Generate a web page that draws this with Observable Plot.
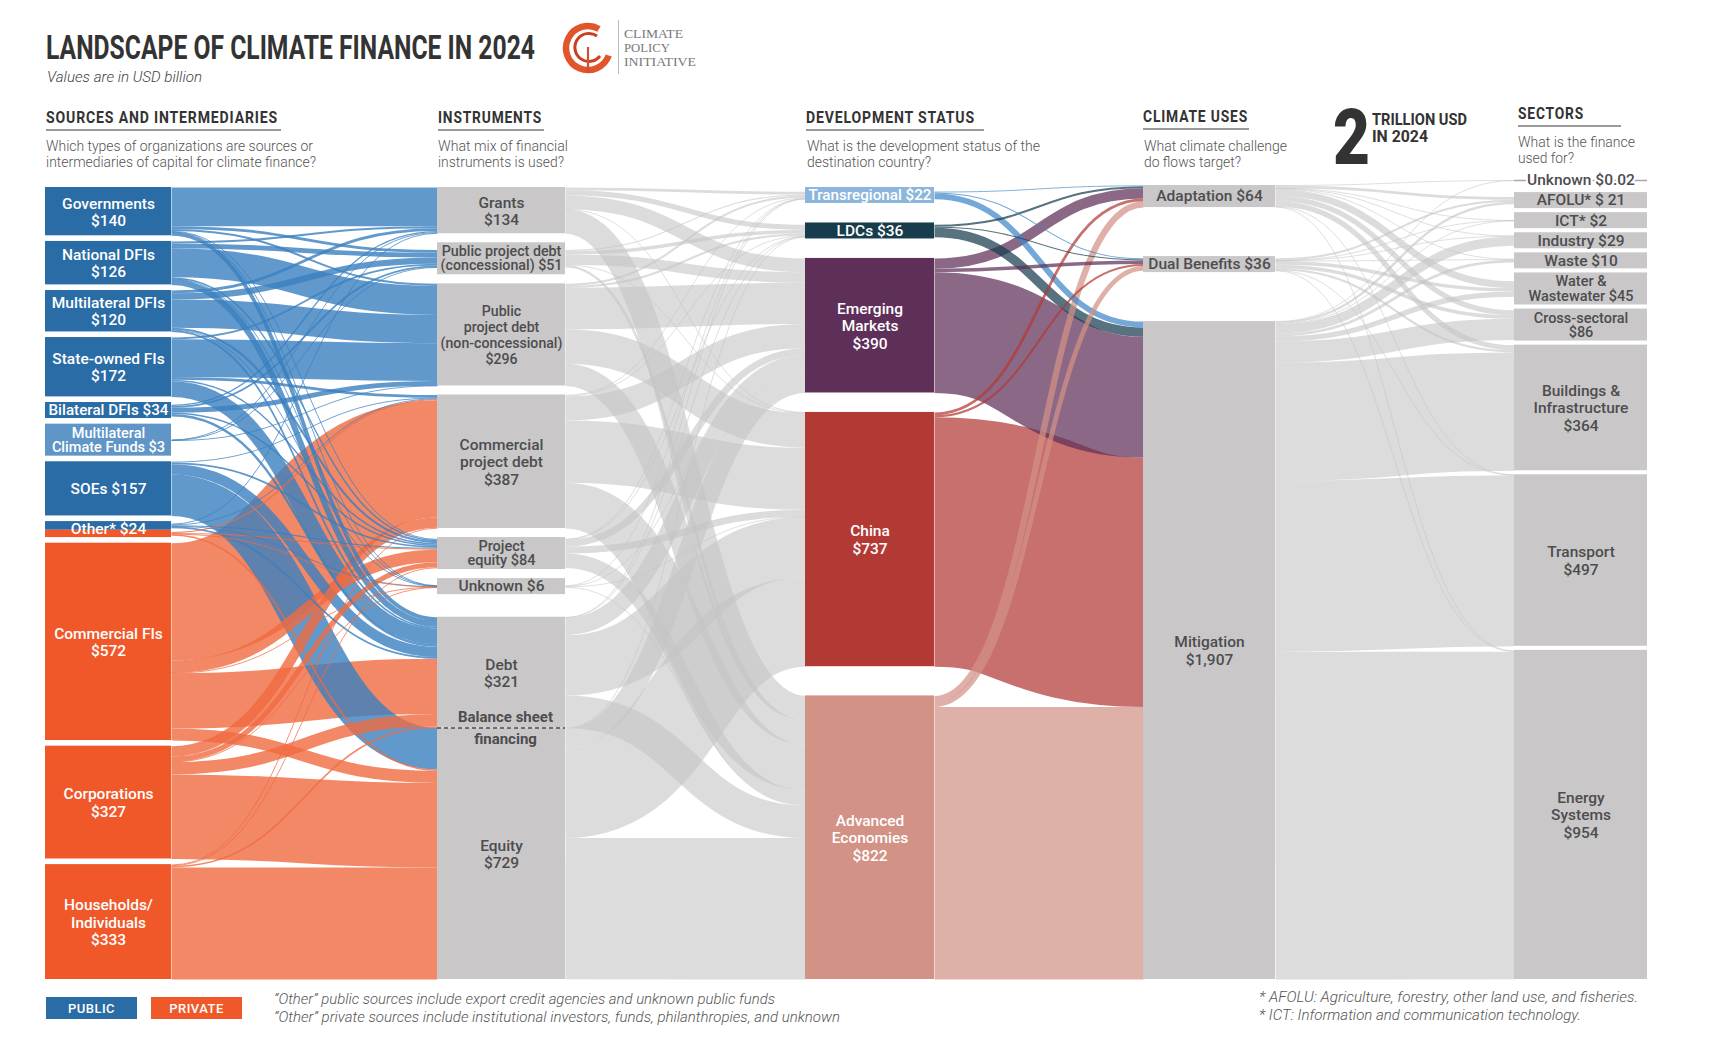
<!DOCTYPE html>
<html><head><meta charset="utf-8">
<script src="https://cdn.jsdelivr.net/npm/d3@7"></script>
<script src="https://cdn.jsdelivr.net/npm/@observablehq/plot@0.6"></script>
<style>
body{margin:0;background:#fff}
#wrap{position:relative;width:1716px;height:1045px;overflow:hidden;background:#fff;font-family:Roboto,"Noto Sans",sans-serif}
#chart{position:absolute;left:0;top:0}
.t{position:absolute;white-space:nowrap;line-height:1;transform-origin:0 50%}
.rule{position:absolute;height:2px;background:#9a9a9a}
.badge{position:absolute;width:91px;height:22px;color:#fff;font:500 13px Roboto,sans-serif;letter-spacing:.5px;display:flex;align-items:center;justify-content:center}
</style></head><body><div id="wrap"><div id="chart"></div></div>
<script>
// ---------------- DATA (USD billion) ----------------
const sources = ["Governments","National DFIs","Multilateral DFIs","State-owned FIs","Bilateral DFIs","Multilateral Climate Funds","SOEs","Other (public)","Other (private)","Commercial FIs","Corporations","Households/Individuals"];
const sourceValues = [140,126,120,172,34,3,157,13,11,572,327,333];
const sourceLabels = ["Governments\n$140","National DFIs\n$126","Multilateral DFIs\n$120","State-owned FIs\n$172","Bilateral DFIs $34","Multilateral\nClimate Funds $3","SOEs $157","Other* $24","","Commercial FIs\n$572","Corporations\n$327","Households/\nIndividuals\n$333"];
const sourceKind = ["public","public","public","public","public","public","public","public","private","private","private","private"];

const instruments = ["Grants","Public project debt (concessional)","Public project debt (non-concessional)","Commercial project debt","Project equity","Unknown instrument","Debt","Equity"];
const instrumentValues = [134,51,296,387,84,6,321,729];
const instrumentLabels = ["Grants\n$134","Public project debt\n(concessional) $51","Public\nproject debt\n(non-concessional)\n$296","Commercial\nproject debt\n$387","Project\nequity $84","Unknown $6","Debt\n$321","Equity\n$729"];

const statuses = ["Transregional","LDCs","Emerging Markets","China","Advanced Economies"];
const statusValues = [22,36,390,737,822];
const statusLabels = ["Transregional $22","LDCs $36","Emerging\nMarkets\n$390","China\n$737","Advanced\nEconomies\n$822"];

const uses = ["Adaptation","Dual Benefits","Mitigation"];
const useValues = [64,36,1907];
const useLabels = ["Adaptation $64","Dual Benefits $36","Mitigation\n$1,907"];

const sectors = ["Unknown sector","AFOLU","ICT","Industry","Waste","Water & Wastewater","Cross-sectoral","Buildings & Infrastructure","Transport","Energy Systems"];
const sectorValues = [0.02,21,2,29,10,45,86,364,497,954];
const sectorLabels = ["Unknown $0.02","AFOLU* $ 21","ICT* $2","Industry $29","Waste $10","Water &\nWastewater $45","Cross-sectoral\n$86","Buildings &\nInfrastructure\n$364","Transport\n$497","Energy\nSystems\n$954"];

// rows: sources; columns: instruments
const sourceToInstrument = [
  [112, 8, 6, 0, 2, 1, 11, 0],
  [6, 14, 84, 0, 4, 1, 17, 0],
  [8, 18, 82, 0, 6, 1, 5, 0],
  [0, 5, 109.5, 8, 4, 0, 45.5, 0],
  [4, 5, 14, 0, 4, 0, 7, 0],
  [1.5, 1, 0.5, 0, 0, 0, 0, 0],
  [0, 0, 0, 2, 5, 0, 30, 120],
  [2.5, 0, 0, 2, 3, 0.5, 5, 0],
  [0, 0, 0, 3, 3, 0.5, 0, 4.5],
  [0, 0, 0, 340, 36, 1, 160, 35],
  [0, 0, 0, 30, 15, 1, 36, 245],
  [0, 0, 0, 2, 2, 0, 4.5, 324.5]
];
// rows: instruments; columns: development status
const instrumentToStatus = [
  [8, 15, 40, 1, 70],
  [3, 10, 30, 1, 7],
  [6, 6, 120, 100, 64],
  [2, 2, 70, 180, 133],
  [1, 1, 20, 20, 42],
  [1, 0, 2, 1, 2],
  [1, 1, 50, 175, 94],
  [0, 1, 58, 259, 410]
];
// rows: development status; columns: climate uses
const statusToUse = [
  [2, 3, 17],
  [6, 3, 27],
  [30, 10, 350],
  [8, 6, 723],
  [18, 14, 790]
];
// rows: climate uses; columns: sectors
const useToSector = [
  [0.01, 8, 0.5, 1, 1, 20, 15, 15, 1, 2.49],
  [0, 6, 0.5, 1, 1, 10, 10, 6, 0.5, 1],
  [0.01, 7, 1, 27, 8, 15, 61, 343, 495.5, 949.5]
];

// ---------------- LAYOUT ----------------
const K = 0.345;                 // px per USD billion
const Y_BOT = 979;
const COLS = [{x:45,w:126,top:187},{x:437,w:128,top:187},{x:805,w:129,top:187},{x:1143,w:132,top:185},{x:1514,w:133,top:172}];
const JOIN = new Set(["Other (private)","Equity"]);
const GAP_WEIGHT = {"Debt":2.5,"Advanced Economies":1.5};

function buildColumn(c, names, values, labels){
  const C = COLS[c];
  const nodes = names.map((name,i)=>({name,value:values[i],label:labels[i],col:c,x0:C.x,x1:C.x+C.w,ins:[],outs:[]}));
  const groups = [];
  nodes.forEach(n=>{ if (JOIN.has(n.name) && groups.length) groups[groups.length-1].push(n); else groups.push([n]); });
  const minH = g => d3.max(g, n => { const L = n.label ? n.label.split("\n").length : 1; return L===1?16:L===2?32:0; });
  const gh = groups.map(g => Math.max(d3.sum(g,n=>n.value)*K, minH(g)));
  const weights = groups.map((g,i)=> i===0 ? 0 : (GAP_WEIGHT[g[0].name] || 1));
  const unit = (Y_BOT - C.top - d3.sum(gh)) / d3.sum(weights);
  let y = C.top;
  groups.forEach((g,i)=>{
    y += weights[i]*unit;
    const tot = d3.sum(g,n=>n.value); let yy = y;
    g.forEach(n=>{ n.y0=yy; n.y1=yy+gh[i]*n.value/tot; yy=n.y1; n.group=g; n.g0=y; n.g1=y+gh[i]; });
    y += gh[i];
  });
  return nodes;
}
const colNodes = [
  buildColumn(0, sources, sourceValues, sourceLabels),
  buildColumn(1, instruments, instrumentValues, instrumentLabels),
  buildColumn(2, statuses, statusValues, statusLabels),
  buildColumn(3, uses, useValues, useLabels),
  buildColumn(4, sectors, sectorValues, sectorLabels)
];
colNodes[0].forEach((n,i)=> n.kind = sourceKind[i]);
const allNodes = colNodes.flat();

function connect(S, T, M, stage){
  const out = [];
  M.forEach((row,i)=>row.forEach((v,j)=>{ if(v>0){ const l={source:S[i],target:T[j],value:v,stage}; S[i].outs.push(l); T[j].ins.push(l); out.push(l);} }));
  return out;
}
const stages = [
  connect(colNodes[0], colNodes[1], sourceToInstrument, 0),
  connect(colNodes[1], colNodes[2], instrumentToStatus, 1),
  connect(colNodes[2], colNodes[3], statusToUse, 2),
  connect(colNodes[3], colNodes[4], useToSector, 3)
];
const mid = n => (n.y0+n.y1)/2;
function stack(node, list, key, other){
  list.sort((a,b)=> mid(a[other]) - mid(b[other]));
  const tot = d3.sum(list, l=>l.value)*K;
  let y = mid(node) - tot/2;
  list.forEach(l=>{ l[key] = y + l.value*K/2; y += l.value*K; });
}
allNodes.forEach(n=>{ stack(n, n.outs, "ya", "target"); stack(n, n.ins, "yb", "source"); });

// ---------------- STYLES ----------------
const GRAY = "#c9c7c8";
const statusFill = {"Transregional":"#8db6dd","LDCs":"#173c4d","Emerging Markets":"#5e2f58","China":"#b33935","Advanced Economies":"#d29285"};
const statusLink = {"Transregional":"#3f87c6","LDCs":"#173c4d","Emerging Markets":"#5e2f58","China":"#b33935","Advanced Economies":"#d29285"};
function nodeFill(n){
  if (n.col===0) return n.name==="Multilateral Climate Funds" ? "#5f95c7" : (n.kind==="public" ? "#2a6ca6" : "#f0582a");
  if (n.col===2) return statusFill[n.name];
  return GRAY;
}
function linkColor(l){
  if (l.stage===0) return l.source.kind==="public" ? "#3a7fbf" : "#f06a40";
  if (l.stage===2) return statusLink[l.source.name];
  return "#c4c4c4";
}
const linkOpacity = [0.8, 0.6, 0.72, 0.6];

function linkMark(links, op){
  return Plot.link(links.slice().sort((a,b)=>b.value-a.value), {
    x1: l=>l.source.x1, y1: l=>l.ya, x2: l=>l.target.x0, y2: l=>l.yb,
    curve: "bump-x", stroke: linkColor, strokeOpacity: op,
    strokeWidth: l=>Math.max(l.value*K, 0.9)
  });
}

// labels (font size fitted to the node width)
const FONT = "Roboto, 'Noto Sans', sans-serif";
const ctx = document.createElement("canvas").getContext("2d");
function fitSize(label, base, boxW){
  ctx.font = `500 ${base}px Roboto`;
  const w = d3.max(label.split("\n"), s=>ctx.measureText(s).width);
  return w > 0 ? Math.min(base, base*(boxW-6)/w) : base;
}
const labelRows = [];
allNodes.forEach(n=>{
  if (!n.label) return;
  const solo = n.group.filter(m=>m.label).length===1;
  const y0 = solo ? n.g0 : n.y0, y1 = solo ? n.g1 : n.y1;
  const lines = n.label.split("\n").length;
  const tight = (y1-y0) < 40;
  const base = tight ? (lines>1 ? 14.5 : 15.5) : 15.5;
  labelRows.push({text:n.label, x:(n.x0+n.x1)/2, y:(y0+y1)/2, col:n.col, tight, name:n.name,
    size: fitSize(n.label, base, n.x1-n.x0), light: n.col===0 || n.col===2});
});
const DARK = "#4d4d4f";
const debtNode = colNodes[1].find(n=>n.name==="Debt");
const unknownSector = colNodes[4].find(n=>n.name==="Unknown sector");
const rectNodes = allNodes.filter(n=>n!==unknownSector);
const txt = (rows, fill, lh, extra={}) => Plot.text(rows, {x:"x", y:"y", text:"text", fill, fontSize:d=>d.size, lineHeight:lh, fontFamily:FONT, fontWeight:500, ...extra});

const chart = Plot.plot({
  width: 1716, height: 1045, margin: 0,
  x: {domain:[0,1716], range:[0,1716], axis:null},
  y: {domain:[0,1045], range:[0,1045], axis:null},
  color: {type:"identity"},
  marks: [
    ...stages.map((s,i)=>linkMark(s, linkOpacity[i])),
    Plot.rect(rectNodes, {x1:"x0", x2:"x1", y1:"y0", y2:"y1", fill:nodeFill}),
    Plot.ruleY([unknownSector], {y:mid, x1:"x0", x2:"x1", stroke:"#a9a9a9", strokeWidth:1.5}),
    Plot.ruleY([debtNode], {y:"y1", x1:"x0", x2:"x1", stroke:DARK, strokeWidth:1.3, strokeDasharray:"4,3"}),
    txt(labelRows.filter(d=>d.light && !d.tight), "white", 1.12),
    txt(labelRows.filter(d=>d.light && d.tight), "white", 0.98),
    txt(labelRows.filter(d=>!d.light && !d.tight), DARK, 1.12),
    txt(labelRows.filter(d=>!d.light && d.tight && d.name!=="Unknown sector"), DARK, 0.98),
    txt(labelRows.filter(d=>d.name==="Unknown sector"), DARK, 1.0, {stroke:"white", strokeWidth:4}),
    Plot.text([debtNode], {x:d=>(d.x0+d.x1)/2+4, y:d=>d.y1-11, text:()=>"Balance sheet", fill:DARK, fontSize:15, fontWeight:700, fontFamily:FONT}),
    Plot.text([debtNode], {x:d=>(d.x0+d.x1)/2+4, y:d=>d.y1+11, text:()=>"financing", fill:DARK, fontSize:15, fontWeight:700, fontFamily:FONT})
  ]
});
document.getElementById("chart").appendChild(chart);

// ---------------- HTML TEXT ----------------
const wrap = document.getElementById("wrap");
const texts = [
  {t:"LANDSCAPE OF CLIMATE FINANCE IN 2024", x:46, y:47, s:33, w:489, wt:700, c:"#333"},
  {t:"Values are in USD billion", x:47, y:77, s:15, w:155, st:"italic", wt:300, c:"#444"},
  {t:"SOURCES AND INTERMEDIARIES", x:46, y:118, s:16.5, w:232, wt:700, c:"#333", ls:1},
  {t:"INSTRUMENTS", x:438, y:118, s:16.5, w:104, wt:700, c:"#333", ls:1},
  {t:"DEVELOPMENT STATUS", x:806, y:118, s:16.5, w:169, wt:700, c:"#333", ls:1},
  {t:"CLIMATE USES", x:1143, y:117, s:16.5, w:105, wt:700, c:"#333", ls:1},
  {t:"SECTORS", x:1518, y:114, s:16.5, w:66, wt:700, c:"#333", ls:1},
  {t:"Which types of organizations are sources or", x:46, y:146, s:14, w:267, wt:300, c:"#555"},
  {t:"intermediaries of capital for climate finance?", x:46, y:162, s:14, w:270, wt:300, c:"#555"},
  {t:"What mix of financial", x:438, y:146, s:14, w:130, wt:300, c:"#555"},
  {t:"instruments is used?", x:438, y:162, s:14, w:126, wt:300, c:"#555"},
  {t:"What is the development status of the", x:807, y:146, s:14, w:233, wt:300, c:"#555"},
  {t:"destination country?", x:807, y:162, s:14, w:124, wt:300, c:"#555"},
  {t:"What climate challenge", x:1144, y:146, s:14, w:143, wt:300, c:"#555"},
  {t:"do flows target?", x:1144, y:162, s:14, w:97, wt:300, c:"#555"},
  {t:"What is the finance", x:1518, y:142, s:14, w:117, wt:300, c:"#555"},
  {t:"used for?", x:1518, y:158, s:14, w:56, wt:300, c:"#555"},
  {t:"2", x:1333, y:138, s:77, w:37, wt:900, c:"#333"},
  {t:"TRILLION USD", x:1372, y:119.5, s:16, w:95, wt:700, c:"#333"},
  {t:"IN 2024", x:1372, y:137, s:16, w:56, wt:700, c:"#333"},
  {t:"CLIMATE", x:624, y:33, s:13, w:59, c:"#777", f:"'Liberation Serif','DejaVu Serif',serif"},
  {t:"POLICY", x:624, y:47, s:13, w:46, c:"#777", f:"'Liberation Serif','DejaVu Serif',serif"},
  {t:"INITIATIVE", x:624, y:61, s:13, w:72, c:"#777", f:"'Liberation Serif','DejaVu Serif',serif"},
  {t:"\u201COther\u201D public sources include export credit agencies and unknown public funds", x:274, y:999, s:14, w:501, st:"italic", wt:300, c:"#555"},
  {t:"\u201COther\u201D private sources include institutional investors, funds, philanthropies, and unknown", x:274, y:1017, s:14, w:566, st:"italic", wt:300, c:"#555"},
  {t:"*  AFOLU: Agriculture, forestry, other land use, and fisheries.", x:1259, y:997, s:14, w:379, st:"italic", wt:300, c:"#555"},
  {t:"*  ICT: Information and communication technology.", x:1259, y:1015, s:14, w:322, st:"italic", wt:300, c:"#555"}
];
texts.forEach(o=>{
  const el = document.createElement("div");
  el.className = "t"; el.textContent = o.t;
  Object.assign(el.style, {left:o.x+"px", top:(o.y-o.s/2)+"px", fontSize:o.s+"px", fontWeight:o.wt||400,
    fontStyle:o.st||"normal", color:o.c||"#333", fontFamily:o.f||"Roboto, 'Noto Sans', sans-serif", letterSpacing:(o.ls||0)+"px"});
  el.dataset.w = o.w;
  wrap.appendChild(el);
});
[[46,129,235],[438,129,106],[806,129,178],[1143,128,106],[1518,125,103]].forEach(([x,y,w])=>{
  const d = document.createElement("div"); d.className="rule";
  Object.assign(d.style,{left:x+"px", top:y+"px", width:w+"px"}); wrap.appendChild(d);
});
[["PUBLIC","#2a6ca6",46],["PRIVATE","#f0582a",151]].forEach(([t,c,x])=>{
  const d = document.createElement("div"); d.className="badge"; d.textContent=t;
  Object.assign(d.style,{left:x+"px", top:"997px", background:c}); wrap.appendChild(d);
});
const sep = document.createElement("div");
Object.assign(sep.style,{position:"absolute",left:"618px",top:"20px",width:"1px",height:"54px",background:"#bbb"});
wrap.appendChild(sep);
const logo = document.createElementNS("http://www.w3.org/2000/svg","svg");
logo.setAttribute("width","56"); logo.setAttribute("height","56");
Object.assign(logo.style,{position:"absolute",left:"562px",top:"20px"});
logo.innerHTML = '<path d="M37,8.95 A22,22 0 1,0 46.7,35.5" fill="none" stroke="#e2552a" stroke-width="6.5"/>' +
  '<path d="M35,16 A14,14 0 1,0 38,36" fill="none" stroke="#c8401d" stroke-width="3"/>' +
  '<line x1="26" y1="27" x2="26" y2="52" stroke="#d4502a" stroke-width="2.2"/>';
wrap.appendChild(logo);

function fit(){
  document.querySelectorAll(".t[data-w]").forEach(el=>{
    el.style.transform = "none";
    const w = el.getBoundingClientRect().width;
    if (w > 0) el.style.transform = `scaleX(${(+el.dataset.w)/w})`;
  });
}
fit();
if (document.fonts && document.fonts.ready) document.fonts.ready.then(fit);
</script></body></html>
